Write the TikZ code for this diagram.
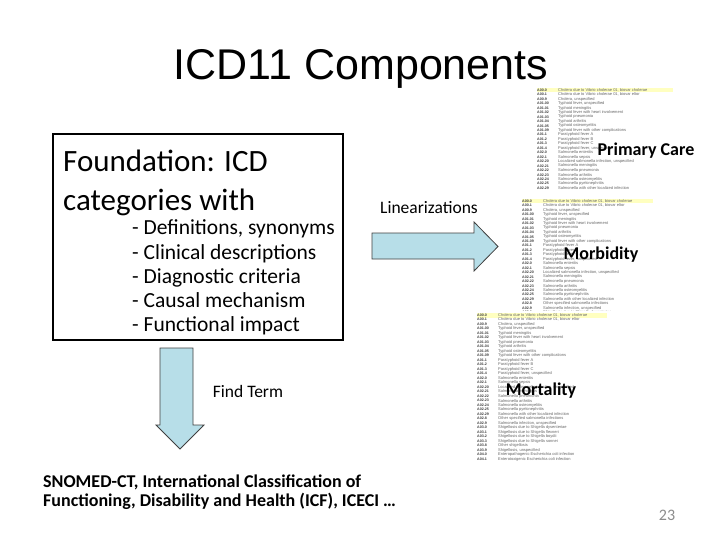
\documentclass[tikz,border=0pt]{standalone}
\usepackage{fontspec}
\setmainfont{Carlito}
\newfontfamily\arialf{Liberation Sans}
\newfontfamily\tinyf{Liberation Sans}
\definecolor{arrowfill}{HTML}{B7DEE8}
\definecolor{hl}{HTML}{FFFFC0}
\definecolor{pgnum}{HTML}{8C8C8C}
\newcommand{\icdrows}{A00.0/{Cholera due to Vibrio cholerae 01, biovar cholerae},
A00.1/{Cholera due to Vibrio cholerae 01, biovar eltor},
A00.9/{Cholera, unspecified},
A01.00/{Typhoid fever, unspecified},
A01.01/{Typhoid meningitis},
A01.02/{Typhoid fever with heart involvement},
A01.03/{Typhoid pneumonia},
A01.04/{Typhoid arthritis},
A01.05/{Typhoid osteomyelitis},
A01.09/{Typhoid fever with other complications},
A01.1/{Paratyphoid fever A},
A01.2/{Paratyphoid fever B},
A01.3/{Paratyphoid fever C},
A01.4/{Paratyphoid fever, unspecified},
A02.0/{Salmonella enteritis},
A02.1/{Salmonella sepsis},
A02.20/{Localized salmonella infection, unspecified},
A02.21/{Salmonella meningitis},
A02.22/{Salmonella pneumonia},
A02.23/{Salmonella arthritis},
A02.24/{Salmonella osteomyelitis},
A02.25/{Salmonella pyelonephritis},
A02.29/{Salmonella with other localized infection},
A02.8/{Other specified salmonella infections},
A02.9/{Salmonella infection, unspecified},
A03.0/{Shigellosis due to Shigella dysenteriae},
A03.1/{Shigellosis due to Shigella flexneri},
A03.2/{Shigellosis due to Shigella boydii},
A03.3/{Shigellosis due to Shigella sonnei},
A03.8/{Other shigellosis},
A03.9/{Shigellosis, unspecified},
A04.0/{Enteropathogenic Escherichia coli infection},
A04.1/{Enterotoxigenic Escherichia coli infection}}
% #1 name, #2 x, #3 y, #4 rows, #5 row height, #6 highlight width, #7 bg width
\newcommand{\icdtable}[7]{%
  \fill[white] (#2-2,#3-2) rectangle ++(#7,#4*#5+3);
  \fill[hl] (#2,#3) rectangle ++(#6,#5);
  \foreach \c/\d [count=\i from 0] in \icdrows {%
    \ifnum\i<#4
      \node[tcode] (#1c\i) at (#2,#3+\i*#5+0.5*#5) {\c};
      \node[tdesc] (#1d\i) at (#2+21,#3+\i*#5+0.5*#5) {\d};
    \fi
  }%
}
\tikzset{
  tcode/.style={anchor=west,inner sep=0pt,font=\tinyf\fontsize{3.6}{4}\selectfont\bfseries,text=black!75},
  tdesc/.style={anchor=west,inner sep=0pt,font=\tinyf\fontsize{4}{4}\selectfont,text=black!60},
  blockarrow/.style={fill=arrowfill,draw=black!75,line width=0.8pt,line join=miter},
  lbl/.style={inner sep=0pt,font=\fontsize{18}{21}\selectfont\bfseries},
  btext/.style={anchor=base west,inner sep=0pt,font=\fontsize{21.5}{25}\selectfont},
  ftext/.style={anchor=base west,inner sep=0pt,font=\fontsize{31}{37}\selectfont},
  stext/.style={anchor=west,inner sep=0pt,font=\fontsize{18}{21}\selectfont\bfseries},
}
\begin{document}
\begin{tikzpicture}[x=1pt,y=-1pt]
\useasboundingbox (0,0) rectangle (720,540);
\fill[white] (0,0) rectangle (720,540);
% title
\node[anchor=base,inner sep=0pt,font=\arialf\fontsize{43}{50}\selectfont] (title) at (361,80) {ICD11 Components};
% foundation box
\draw[line width=2.5pt] (53,134) rectangle (343,340);
\node[ftext] (f1) at (63,172) {Foundation: ICD};
\node[ftext] (f2) at (63,211) {categories with};
\node[btext] (b1) at (132,235) {- Definitions, synonyms};
\node[btext] (b2) at (132,259) {- Clinical descriptions};
\node[btext] (b3) at (132,283) {- Diagnostic criteria};
\node[btext] (b4) at (132,307) {- Causal mechanism};
\node[btext] (b5) at (132,331) {- Functional impact};
% right arrow
\draw[blockarrow] (372,233) -- (474,233) -- (474,222) -- (498,246.5) -- (474,271) -- (474,259) -- (372,259) -- cycle;
\node[inner sep=0pt,font=\fontsize{17.5}{21}\selectfont] (lin) at (429,208) {Linearizations};
% down arrow
\draw[blockarrow] (160,348) -- (193,348) -- (193,425) -- (204,425) -- (180,449) -- (156,425) -- (160,425) -- cycle;
\node[inner sep=0pt,font=\fontsize{17.5}{21}\selectfont] (find) at (248,391) {Find Term};
% bottom text
\node[stext] (s1) at (43,482) {SNOMED-CT, International Classification of};
\node[stext] (s2) at (43,501) {Functioning, Disability and Health (ICF), ICECI …};
% tables
\icdtable{ta}{537}{88}{23}{4.45}{136}{155}
\icdtable{tb}{522}{199}{26}{4.45}{131}{150}
\icdtable{tc}{477}{313}{33}{4.5}{130}{165}
% labels
\node[lbl] (pc) at (646,151) {Primary Care};
\node[lbl] (mb) at (601,255) {Morbidity};
\node[lbl] (mt) at (541,391) {Mortality};
% page number
\node[inner sep=0pt,text=pgnum,font=\fontsize{16}{19}\selectfont] (pg) at (667,515) {23};
\end{tikzpicture}
\end{document}
